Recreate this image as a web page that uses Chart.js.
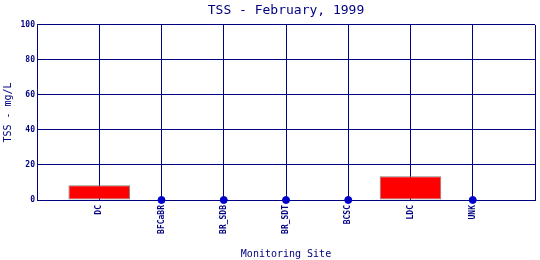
<!DOCTYPE html>
<html>
<head>
<meta charset="utf-8">
<script src="https://cdn.jsdelivr.net/npm/chart.js@4"></script>
<style>
  html, body { margin: 0; padding: 0; background: #fff; }
  #wrap { width: 540px; height: 260px; }
</style>
</head>
<body>
<div id="wrap"><canvas id="chart" width="540" height="260"></canvas></div>
<script>
// --- data ---
const sites = ['DC', 'BFCaBR', 'BR_SDB', 'BR_SDT', 'BCSC', 'LDC', 'UNK'];
const tssValues = [8.4, 0, 0, 0, 0, 13.5, 0];
const yTicks = [0, 20, 40, 60, 80, 100];

const navy = '#000080';
const mono = '"DejaVu Sans Mono", monospace';

// empty slot on each side, like the original plot
const labels = ['', ...sites, ''];
const barData = [null, ...tssValues.map(v => v > 0 ? v : null), null];
const zeroData = [null, ...tssValues.map(v => v === 0 ? 0 : null), null];

new Chart(document.getElementById('chart'), {
  type: 'bar',
  data: {
    labels,
    datasets: [
      {
        type: 'line',
        data: zeroData,
        showLine: false,
        clip: false,
        pointRadius: 3.5,
        pointBackgroundColor: '#0000cc',
        pointBorderColor: '#0000cc',
        pointBorderWidth: 1
      },
      {
        data: barData,
        backgroundColor: '#ff0000',
        borderColor: '#808080',
        borderWidth: 1,
        borderSkipped: false,
        barPercentage: 0.99,
        categoryPercentage: 1
      }
    ]
  },
  options: {
    animation: false,
    responsive: false,
    layout: { padding: { right: 2 } },
    plugins: {
      legend: { display: false },
      tooltip: { enabled: false },
      title: {
        display: true,
        text: 'TSS - February, 1999',
        color: navy,
        fullSize: false,
        font: { family: mono, size: 13, weight: 'normal', lineHeight: 1.23 },
        padding: { top: 3, bottom: 6 }
      }
    },
    scales: {
      x: {
        offset: false,
        grid: { color: navy, lineWidth: 1, drawTicks: false, offset: false },
        border: { color: navy, width: 1 },
        ticks: {
          color: navy,
          autoSkip: false,
          minRotation: 90,
          maxRotation: 90,
          padding: 5,
          font: { family: mono, size: 8, weight: 'bold' }
        },
        title: {
          display: true,
          text: 'Monitoring Site',
          color: navy,
          font: { family: mono, size: 10, lineHeight: 1.2 },
          padding: { top: 0, bottom: 0 }
        },
        afterFit: s => { s.height = 60; s.paddingLeft = 0; s.paddingRight = 0; }
      },
      y: {
        min: 0,
        max: 100,
        afterBuildTicks: s => { s.ticks = yTicks.map(v => ({ value: v })); },
        grid: { color: navy, lineWidth: 1, drawTicks: false },
        border: { color: navy, width: 1 },
        ticks: {
          color: navy,
          padding: 2,
          font: { family: mono, size: 8, weight: 'bold' }
        },
        title: {
          display: true,
          text: 'TSS - mg/L',
          color: navy,
          font: { family: mono, size: 10, lineHeight: 1.2 },
          padding: { top: 2, bottom: 0 }
        },
        afterFit: s => { s.width = 37; }
      }
    }
  }
});
</script>
</body>
</html>
